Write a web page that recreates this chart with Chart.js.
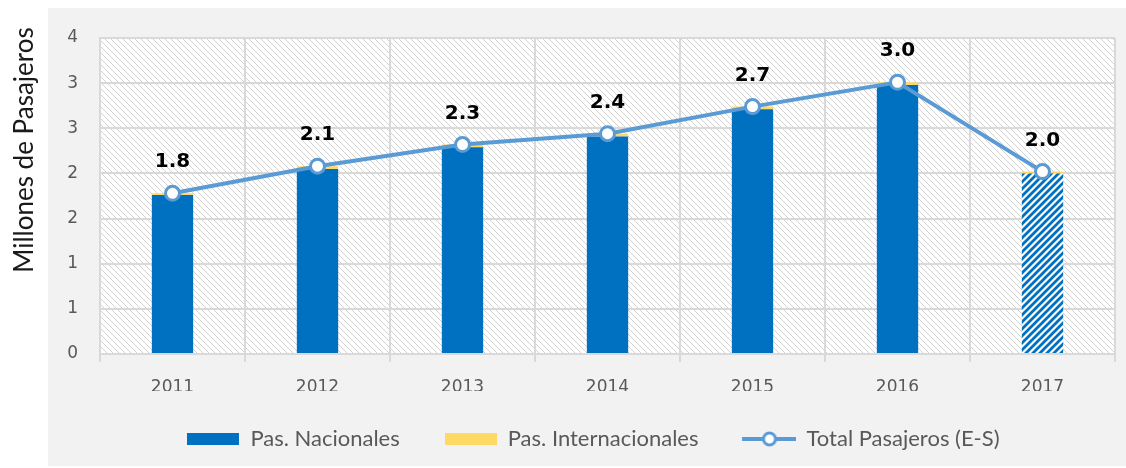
<!DOCTYPE html>
<html>
<head>
<meta charset="utf-8">
<script src="https://cdn.jsdelivr.net/npm/chart.js@4/dist/chart.umd.min.js"></script>
<style>
  html, body { margin: 0; padding: 0; background: #fff; }
  #wrap { width: 1126px; height: 468px; }
</style>
</head>
<body>
<div id="wrap"><canvas id="chart" width="1126" height="468"></canvas></div>
<script>
// ================= DATA =================
const years = ["2011", "2012", "2013", "2014", "2015", "2016", "2017"];
const nacionales = [1.76, 2.05, 2.29, 2.41, 2.71, 2.98, 2.00];
const internacionales = [0.02, 0.03, 0.03, 0.03, 0.03, 0.03, 0.02];
const totalPasajeros = [1.78, 2.08, 2.32, 2.44, 2.74, 3.01, 2.02];
const yTickLabels = ["0", "1", "1", "2", "2", "3", "3", "4"];
const hatchedYears = ["2017"];
const yTitle = "Millones de Pasajeros";

const FONT = "Lato, 'Open Sans', sans-serif";
const NUM_FONT = "'DejaVu Sans', sans-serif";
const BLUE = "#0070c0";
const YELLOW = "#ffd966";
const LINE = "#5b9bd5";

// ================= PATTERNS =================
function makeTile(w, h, draw) {
  const c = document.createElement("canvas");
  c.width = w;
  c.height = h;
  draw(c.getContext("2d"));
  return c;
}

// light "\\\" hatch for plot background
const bgTile = makeTile(6, 6, g => {
  g.fillStyle = "#ffffff";
  g.fillRect(0, 0, 6, 6);
  g.strokeStyle = "#d2d2d2";
  g.lineWidth = 1;
  g.beginPath();
  g.moveTo(-1, -1); g.lineTo(7, 7);
  g.moveTo(-1, 5); g.lineTo(1, 7);
  g.moveTo(5, -1); g.lineTo(7, 1);
  g.stroke();
});

// blue "///" stripes for the 2017 bar
const stripeTile = makeTile(7, 7, g => {
  g.fillStyle = "#ffffff";
  g.fillRect(0, 0, 7, 7);
  g.strokeStyle = BLUE;
  g.lineWidth = 2.8;
  g.beginPath();
  g.moveTo(-1, 8); g.lineTo(8, -1);
  g.moveTo(-1, 1); g.lineTo(1, -1);
  g.moveTo(6, 8); g.lineTo(8, 6);
  g.stroke();
});

const canvas = document.getElementById("chart");
const ctx = canvas.getContext("2d");
const bgPattern = ctx.createPattern(bgTile, "repeat");
const stripePattern = ctx.createPattern(stripeTile, "repeat");

// legend icons
const legendIcons = [
  makeTile(52, 12, g => { g.fillStyle = BLUE; g.fillRect(0, 0, 52, 12); }),
  makeTile(52, 12, g => { g.fillStyle = YELLOW; g.fillRect(0, 0, 52, 12); }),
  makeTile(54, 20, g => {
    g.strokeStyle = LINE;
    g.lineWidth = 4;
    g.beginPath(); g.moveTo(0, 10); g.lineTo(54, 10); g.stroke();
    g.fillStyle = "#fff";
    g.lineWidth = 3;
    g.beginPath(); g.arc(27, 10, 6, 0, Math.PI * 2); g.fill(); g.stroke();
  })
];

// ================= PLUGINS =================
const backdrop = {
  id: "backdrop",
  beforeDraw(chart) {
    const c = chart.ctx;
    const a = chart.chartArea;
    c.save();
    c.fillStyle = "#ffffff";
    c.fillRect(0, 0, chart.width, chart.height);
    c.fillStyle = "#f2f2f2";
    c.fillRect(48, 8, chart.width - 48, chart.height - 10);
    c.fillStyle = bgPattern;
    c.fillRect(a.left, a.top, a.right - a.left, a.bottom - a.top);
    // y axis title, sits a bit above the plot centre like the original
    c.translate(25, 150);
    c.rotate(-Math.PI / 2);
    c.font = "26px " + FONT;
    c.fillStyle = "#1a1a1a";
    c.textAlign = "center";
    c.textBaseline = "middle";
    c.fillText(yTitle, 0, 0);
    c.restore();
  }
};

const legendPlace = {
  id: "legendPlace",
  afterLayout(chart) {
    const lg = chart.legend;
    const a = chart.chartArea;
    lg.left = a.left - 14;
    lg.right = a.right - 14;
    lg.width = lg.right - lg.left;
    lg.top = a.bottom + 85 - lg.options.labels.padding - 11;
  }
};

const totalLabels = {
  id: "totalLabels",
  afterDatasetsDraw(chart) {
    const c = chart.ctx;
    const meta = chart.getDatasetMeta(2);
    c.save();
    c.font = "bold 20px " + NUM_FONT;
    c.fillStyle = "#000";
    c.textAlign = "center";
    c.textBaseline = "middle";
    meta.data.forEach((pt, i) => {
      c.fillText(totalPasajeros[i].toFixed(1), pt.x, pt.y - 31);
    });
    c.restore();
  }
};

// ================= CHART =================
new Chart(canvas, {
  type: "bar",
  data: {
    labels: years,
    datasets: [
      {
        label: "Pas. Nacionales",
        data: nacionales,
        backgroundColor: years.map(y => hatchedYears.includes(y) ? stripePattern : BLUE),
        stack: "pas",
        order: 1,
        barPercentage: 1,
        categoryPercentage: 0.285
      },
      {
        label: "Pas. Internacionales",
        data: internacionales,
        backgroundColor: YELLOW,
        stack: "pas",
        order: 1,
        barPercentage: 1,
        categoryPercentage: 0.285
      },
      {
        type: "line",
        label: "Total Pasajeros (E-S)",
        data: totalPasajeros,
        stack: "total",
        order: 0,
        borderColor: LINE,
        borderWidth: 4,
        pointRadius: 7,
        pointBorderWidth: 3,
        pointBackgroundColor: "#ffffff",
        pointBorderColor: LINE,
        tension: 0
      }
    ]
  },
  options: {
    responsive: false,
    animation: false,
    layout: { padding: { left: 13, right: 11, top: 38, bottom: 0 } },
    plugins: {
      tooltip: { enabled: false },
      legend: {
        position: "bottom",
        labels: {
          usePointStyle: true,
          pointStyleWidth: 52,
          boxHeight: 22,
          padding: 45,
          color: "#595959",
          font: { family: FONT, size: 22 },
          generateLabels: chart => chart.data.datasets.map((ds, i) => ({
            text: ds.label,
            pointStyle: legendIcons[i],
            fontColor: "#595959",
            fillStyle: "transparent",
            strokeStyle: "transparent",
            lineWidth: 0,
            hidden: false,
            datasetIndex: i
          }))
        }
      }
    },
    scales: {
      x: {
        stacked: true,
        grid: { color: "#d9d9d9", lineWidth: 2, tickLength: 8, offset: true },
        border: { color: "#d9d9d9", width: 2 },
        ticks: { color: "#595959", font: { family: NUM_FONT, size: 17 }, padding: 15 },
        afterFit: s => { s.height = 37; }
      },
      y: {
        stacked: true,
        min: 0,
        max: 3.5,
        ticks: {
          stepSize: 0.5,
          color: "#595959",
          padding: 22,
          font: { family: NUM_FONT, size: 17 },
          callback: (v, i) => yTickLabels[i]
        },
        grid: { color: "#d9d9d9", lineWidth: 2, drawTicks: false },
        border: { color: "#d9d9d9", width: 2 },
        afterFit: s => { s.width = 87; }
      }
    }
  },
  plugins: [backdrop, legendPlace, totalLabels]
});
</script>
</body>
</html>
